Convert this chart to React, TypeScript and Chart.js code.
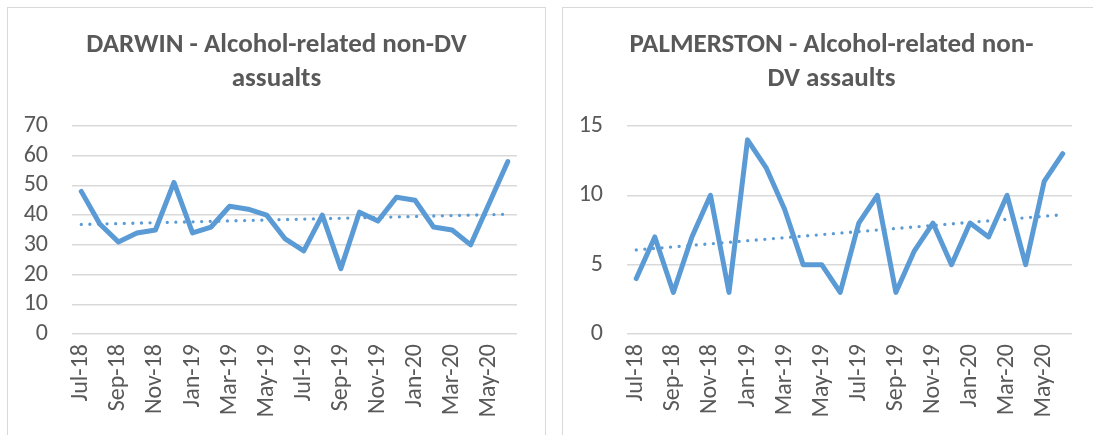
import React, { useEffect, useRef } from "react";
import { Chart, registerables } from "chart.js";

Chart.register(...registerables);

const months = [
  "Jul-18", "Aug-18", "Sep-18", "Oct-18", "Nov-18", "Dec-18",
  "Jan-19", "Feb-19", "Mar-19", "Apr-19", "May-19", "Jun-19",
  "Jul-19", "Aug-19", "Sep-19", "Oct-19", "Nov-19", "Dec-19",
  "Jan-20", "Feb-20", "Mar-20", "Apr-20", "May-20", "Jun-20",
];

const darwinValues = [48, 37, 31, 34, 35, 51, 34, 36, 43, 42, 40, 32, 28, 40, 22, 41, 38, 46, 45, 36, 35, 30, 44, 58];
const palmerstonValues = [4, 7, 3, 7, 10, 3, 14, 12, 9, 5, 5, 3, 8, 10, 3, 6, 8, 5, 8, 7, 10, 5, 11, 13];

const darwinTitle = ["DARWIN - Alcohol-related non-DV", "assualts"];
const palmerstonTitle = ["PALMERSTON - Alcohol-related non-", "DV assaults"];

const darwinYTicks = [0, 10, 20, 30, 40, 50, 60, 70];
const palmerstonYTicks = [0, 5, 10, 15];

const FONT = "Carlito, Calibri, Lato, sans-serif";
const BLUE = "#5B9BD5";
const GREY_TEXT = "#595959";
const GRID = "#d9d9d9";

// Linear (least squares) trendline, as the spreadsheet computes it from the series
function linearTrend(values: number[]): number[] {
  const n = values.length;
  const mx = (n - 1) / 2;
  const my = values.reduce((a, b) => a + b, 0) / n;
  let sxy = 0;
  let sxx = 0;
  values.forEach((v, i) => {
    sxy += (i - mx) * (v - my);
    sxx += (i - mx) * (i - mx);
  });
  const slope = sxy / sxx;
  return values.map((_, i) => my + slope * (i - mx));
}

type PanelProps = {
  left: number;
  title: string[];
  values: number[];
  yTicks: number[];
};

const BOX_W = 539;
const CANVAS_H = 428;

function Panel({ left, title, values, yTicks }: PanelProps) {
  const ref = useRef<HTMLCanvasElement | null>(null);

  useEffect(() => {
    if (!ref.current) return;
    const yMax = yTicks[yTicks.length - 1];
    const chart = new Chart(ref.current, {
      type: "line",
      data: {
        labels: months,
        datasets: [
          {
            data: values,
            borderColor: BLUE,
            backgroundColor: BLUE,
            borderWidth: 5,
            borderJoinStyle: "round",
            borderCapStyle: "round",
            pointRadius: 0,
            tension: 0,
            order: 1,
          },
          {
            data: linearTrend(values),
            borderColor: BLUE,
            borderWidth: 3.3,
            borderDash: [0, 8.6],
            borderCapStyle: "round",
            pointRadius: 0,
            tension: 0,
            order: 2,
          },
        ],
      },
      options: {
        responsive: false,
        animation: false,
        devicePixelRatio: 1,
        layout: { padding: 0 },
        plugins: {
          legend: { display: false },
          tooltip: { enabled: false },
          title: {
            display: true,
            text: title,
            color: GREY_TEXT,
            font: { family: FONT, size: 27, weight: "bold", lineHeight: "34px" },
            padding: { top: 21, bottom: 30 },
          },
        },
        scales: {
          x: {
            type: "category",
            offset: true,
            grid: { display: false, drawTicks: false },
            border: { display: false },
            afterFit: (s: any) => {
              s.height = 101;
              s.paddingLeft = 0;
              s.paddingRight = 0;
            },
            ticks: {
              autoSkip: false,
              minRotation: 90,
              maxRotation: 90,
              padding: 10,
              color: GREY_TEXT,
              font: { family: FONT, size: 24 },
              callback: (_v: any, i: number) => (i % 2 === 0 ? months[i] : ""),
            },
          },
          y: {
            min: 0,
            max: yMax,
            grid: { color: GRID, lineWidth: 1.5, drawTicks: false },
            border: { display: false },
            afterFit: (s: any) => {
              s.width = 65;
            },
            afterBuildTicks: (s: any) => {
              s.ticks = yTicks.map((v) => ({ value: v }));
            },
            ticks: {
              autoSkip: false,
              padding: 24,
              color: GREY_TEXT,
              font: { family: FONT, size: 24 },
            },
          },
          // empty right-hand spacer so the title stays centred on the whole box
          spacer: {
            type: "linear",
            position: "right",
            display: true,
            grid: { display: false, drawTicks: false },
            border: { display: false },
            ticks: { display: false },
            afterFit: (s: any) => {
              s.width = 29;
            },
          },
        },
      },
    });
    return () => chart.destroy();
  }, []);

  return (
    <>
      <div
        style={{
          position: "absolute",
          left,
          top: 7,
          width: BOX_W,
          height: 428,
          boxSizing: "border-box",
          border: `1.5px solid ${GRID}`,
          borderBottom: "none",
        }}
      />
      <canvas
        ref={ref}
        width={BOX_W}
        height={CANVAS_H}
        style={{ position: "absolute", left, top: 7, width: BOX_W, height: CANVAS_H }}
      />
    </>
  );
}

export default function App() {
  return (
    <div
      style={{
        position: "absolute",
        left: 0,
        top: 0,
        width: 1093,
        height: 435,
        overflow: "hidden",
        background: "#ffffff",
      }}
    >
      <Panel left={7} title={darwinTitle} values={darwinValues} yTicks={darwinYTicks} />
      <Panel left={562} title={palmerstonTitle} values={palmerstonValues} yTicks={palmerstonYTicks} />
    </div>
  );
}
